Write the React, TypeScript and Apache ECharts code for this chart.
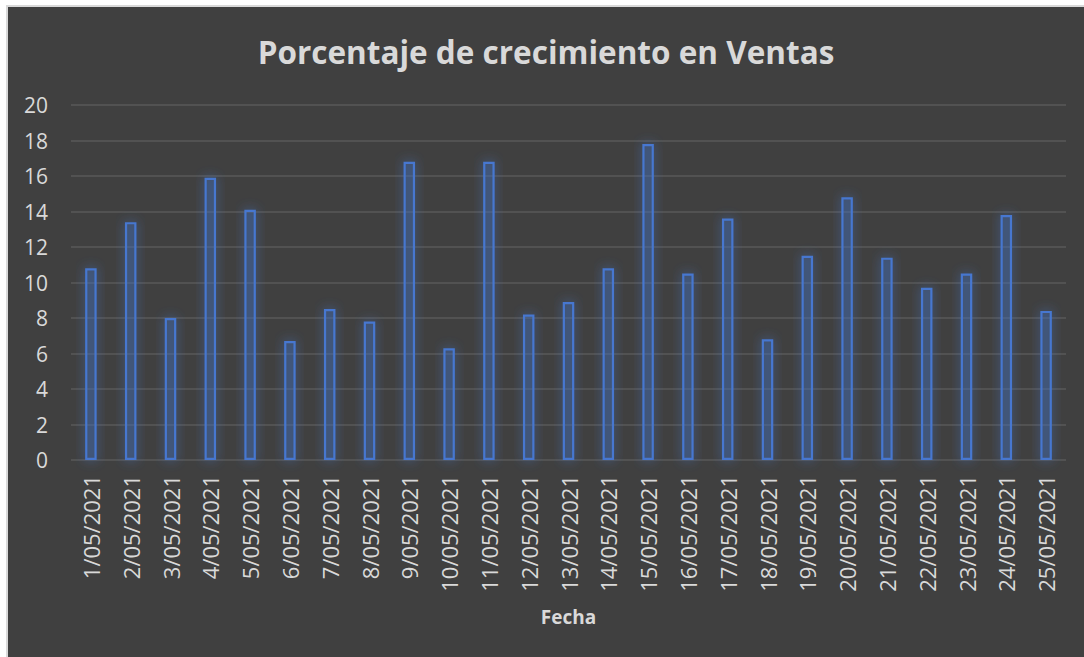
import React, { useEffect, useRef } from "react";
import * as echarts from "echarts";

const categories = [
  "1/05/2021", "2/05/2021", "3/05/2021", "4/05/2021", "5/05/2021",
  "6/05/2021", "7/05/2021", "8/05/2021", "9/05/2021", "10/05/2021",
  "11/05/2021", "12/05/2021", "13/05/2021", "14/05/2021", "15/05/2021",
  "16/05/2021", "17/05/2021", "18/05/2021", "19/05/2021", "20/05/2021",
  "21/05/2021", "22/05/2021", "23/05/2021", "24/05/2021", "25/05/2021",
];

const growth = [
  10.8, 13.4, 8.0, 15.9, 14.1, 6.7, 8.5, 7.8, 16.8, 6.3, 16.8, 8.2, 8.9,
  10.8, 17.8, 10.5, 13.6, 6.8, 11.5, 14.8, 11.4, 9.7, 10.5, 13.8, 8.4,
];

const titleText = "Porcentaje de crecimiento en Ventas";
const xAxisName = "Fecha";
const yMin = 0;
const yMax = 20;
const yInterval = 2;

const FONT = "'Open Sans', 'Noto Sans', sans-serif";
const TEXT = "#d9d9d9";

export default function App() {
  const ref = useRef<HTMLDivElement>(null);

  useEffect(() => {
    if (!ref.current) return;
    const chart = echarts.init(ref.current, undefined, { renderer: "svg" });
    chart.setOption({
      animation: false,
      backgroundColor: "#404040",
      title: {
        text: titleText,
        left: "center",
        top: 23,
        textStyle: {
          color: TEXT,
          fontFamily: FONT,
          fontWeight: "bold",
          fontSize: 31.5,
        },
      },
      grid: { left: 63, right: 18, top: 98, bottom: 197, containLabel: false },
      xAxis: {
        type: "category",
        data: categories,
        name: xAxisName,
        nameLocation: "middle",
        nameGap: 147,
        nameTextStyle: {
          color: TEXT,
          fontFamily: FONT,
          fontWeight: "bold",
          fontSize: 19,
        },
        axisLine: { show: false },
        axisTick: { show: false },
        axisLabel: {
          rotate: 90,
          margin: 15,
          interval: 0,
          color: TEXT,
          fontFamily: FONT,
          fontSize: 22,
        },
      },
      yAxis: {
        type: "value",
        min: yMin,
        max: yMax,
        interval: yInterval,
        axisLine: { show: false },
        axisTick: { show: false },
        axisLabel: {
          margin: 23,
          color: TEXT,
          fontFamily: FONT,
          fontSize: 21,
        },
        splitLine: { lineStyle: { color: "#595959", width: 1.5 } },
      },
      series: [
        {
          type: "bar",
          data: growth,
          barWidth: 11.5,
          itemStyle: {
            color: "rgba(68,114,196,0.22)",
            borderColor: "#4677d0",
            borderWidth: 2.2,
            shadowBlur: 12,
            shadowColor: "rgba(68,114,196,0.85)",
          },
        },
      ],
    });
    return () => chart.dispose();
  }, []);

  return (
    <div style={{ position: "fixed", left: 0, top: 0, width: 1084, height: 657, background: "#ffffff", overflow: "hidden" }}>
      <div
        style={{
          position: "absolute",
          left: 6,
          top: 5,
          width: 1078,
          height: 652,
          boxSizing: "border-box",
          borderLeft: "2px solid #d9d9d9",
          borderTop: "2px solid #d9d9d9",
          background: "#404040",
        }}
      >
        <div ref={ref} style={{ width: 1076, height: 650 }} />
      </div>
    </div>
  );
}
